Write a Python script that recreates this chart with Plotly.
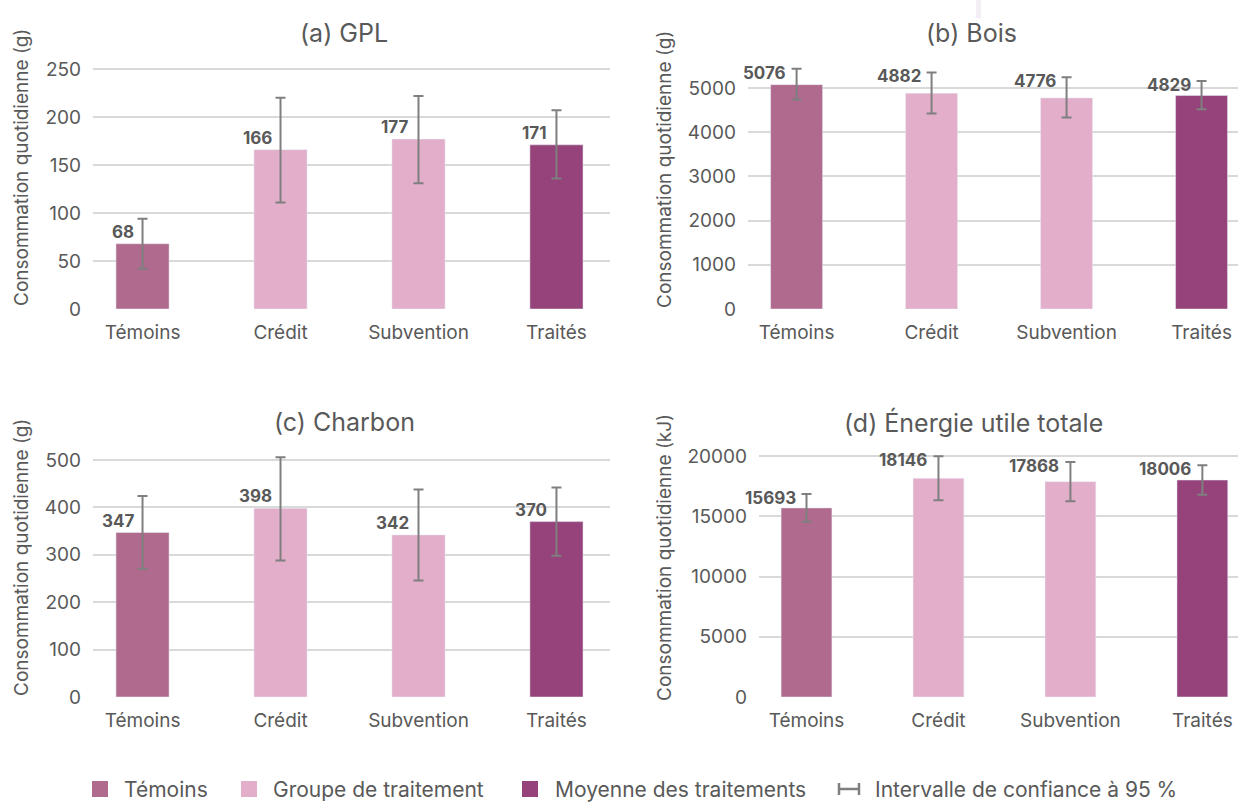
import plotly.graph_objects as go

W, H = 1238, 805

categories = ["Témoins", "Crédit", "Subvention", "Traités"]
colors = ["#B06A8D", "#E3AEC9", "#E3AEC9", "#95437A"]

gpl_mean = [68, 166, 177, 171]
gpl_hi = [94, 220, 222, 207]
gpl_lo = [42, 111, 131, 136]

bois_mean = [5076, 4882, 4776, 4829]
bois_hi = [5436, 5353, 5241, 5158]
bois_lo = [4737, 4421, 4331, 4519]

charbon_mean = [347, 398, 342, 370]
charbon_hi = [424, 506, 438, 442]
charbon_lo = [270, 288, 246, 298]

energie_mean = [15693, 18146, 17868, 18006]
energie_hi = [16838, 19972, 19501, 19223]
energie_lo = [14535, 16338, 16255, 16782]

titles = ["(a) GPL", "(b) Bois", "(c) Charbon", "(d) Énergie utile totale"]
ytitles = ["Consommation quotidienne (g)", "Consommation quotidienne (g)",
           "Consommation quotidienne (g)", "Consommation quotidienne (kJ)"]
yticks = [[0, 50, 100, 150, 200, 250],
          [0, 1000, 2000, 3000, 4000, 5000],
          [0, 100, 200, 300, 400, 500],
          [0, 5000, 10000, 15000, 20000]]

legend_labels = ["Témoins", "Groupe de traitement", "Moyenne des traitements",
                 "Intervalle de confiance à 95 %"]

FONT = "Inter, 'Open Sans', sans-serif"
TXT = "#595959"

def px_x(p):
    return p / W

def px_y(p):
    return 1 - p / H

panels = [
    dict(mean=gpl_mean, hi=gpl_hi, lo=gpl_lo, l=93, r=610, y0=309, yt=69, tv=250, rt=262, xr=(-0.359, 3.388), ci=False),
    dict(mean=bois_mean, hi=bois_hi, lo=bois_lo, l=748, r=1238, y0=309, yt=88, tv=5000, rt=5600, xr=(-0.36, 3.27), ci=True),
    dict(mean=charbon_mean, hi=charbon_hi, lo=charbon_lo, l=93, r=610, y0=697, yt=460, tv=500, rt=530, xr=(-0.359, 3.388), ci=False),
    dict(mean=energie_mean, hi=energie_hi, lo=energie_lo, l=759, r=1238, y0=697, yt=456, tv=20000, rt=21000, xr=(-0.36, 3.27), ci=True),
]
title_pos = [(344, 33), (972, 33), (344, 422), (973, 422)]
ytitle_pos = [(21, 168), (665, 170), (21, 558), (664, 558)]

fig = go.Figure()
annotations = []
layout = {}
for i, p in enumerate(panels):
    n = "" if i == 0 else str(i + 1)
    scale = (p["y0"] - p["yt"]) / p["tv"]
    ytop_px = p["y0"] - p["rt"] * scale
    fig.add_trace(go.Bar(
        x=categories, y=p["mean"], marker_color=colors, width=0.385,
        error_y=dict(type="data", symmetric=False,
                     array=[h - m for h, m in zip(p["hi"], p["mean"])],
                     arrayminus=[m - l for m, l in zip(p["mean"], p["lo"])],
                     color="#7F7F7F", thickness=2, width=5),
        xaxis="x" + n, yaxis="y" + n, showlegend=False, hoverinfo="skip"))
    layout["xaxis" + n] = dict(domain=[px_x(p["l"]), px_x(p["r"])], anchor="y" + n,
                               range=list(p["xr"]), showgrid=False, showline=False,
                               zeroline=False, ticks="", ticklabelstandoff=10,
                               automargin=False,
                               tickfont=dict(family=FONT, size=19, color=TXT))
    layout["yaxis" + n] = dict(domain=[px_y(p["y0"]), px_y(ytop_px)], anchor="x" + n,
                               range=[0, p["rt"]], tickvals=yticks[i], tickformat="d",
                               showgrid=True, gridcolor="#D9D9D9", gridwidth=1.5,
                               zeroline=False, showline=False, ticks="",
                               ticklabelstandoff=11, automargin=False,
                               tickfont=dict(family=FONT, size=19, color=TXT))
    for j, m in enumerate(p["mean"]):
        if p["ci"]:
            annotations.append(dict(x=j, y=p["hi"][j], xref="x" + n, yref="y" + n,
                                    text=str(m), showarrow=False, xanchor="right",
                                    yanchor="middle", xshift=-9, yshift=-4,
                                    font=dict(family=FONT, size=17, color=TXT, weight="bold")))
        else:
            annotations.append(dict(x=j, y=m, xref="x" + n, yref="y" + n,
                                    text=str(m), showarrow=False, xanchor="right",
                                    yanchor="bottom", xshift=-7, yshift=0,
                                    font=dict(family=FONT, size=17, color=TXT, weight="bold")))
    tx, ty = title_pos[i]
    annotations.append(dict(x=px_x(tx), y=px_y(ty), xref="paper", yref="paper",
                            text=titles[i], showarrow=False, xanchor="center", yanchor="middle",
                            font=dict(family=FONT, size=25, color=TXT)))
    ax, ay = ytitle_pos[i]
    annotations.append(dict(x=px_x(ax), y=px_y(ay), xref="paper", yref="paper",
                            text=ytitles[i], showarrow=False, textangle=-90,
                            xanchor="center", yanchor="middle",
                            font=dict(family=FONT, size=19, color=TXT)))

shapes = []
leg_y = 789
leg_items = [(92, 122, colors[0]), (241, 271, colors[1]), (522, 553, colors[3])]
for k, (mx, tx, c) in enumerate(leg_items):
    shapes.append(dict(type="rect", xref="paper", yref="paper",
                       x0=px_x(mx), x1=px_x(mx + 16), y0=px_y(leg_y + 8), y1=px_y(leg_y - 8),
                       fillcolor=c, line=dict(width=0)))
    annotations.append(dict(x=px_x(tx), y=px_y(leg_y), xref="paper", yref="paper",
                            text=legend_labels[k], showarrow=False, xanchor="left",
                            yanchor="middle", font=dict(family=FONT, size=21, color=TXT)))
ex0, ex1 = 839, 859
for seg in [(ex0, leg_y, ex1, leg_y), (ex0, leg_y - 6, ex0, leg_y + 6), (ex1, leg_y - 6, ex1, leg_y + 6)]:
    shapes.append(dict(type="line", xref="paper", yref="paper",
                       x0=px_x(seg[0]), y0=px_y(seg[1]), x1=px_x(seg[2]), y1=px_y(seg[3]),
                       line=dict(color="#7F7F7F", width=2.5)))
annotations.append(dict(x=px_x(873), y=px_y(leg_y), xref="paper", yref="paper",
                        text=legend_labels[3], showarrow=False, xanchor="left",
                        yanchor="middle", font=dict(family=FONT, size=21, color=TXT)))
shapes.append(dict(type="rect", xref="paper", yref="paper",
                   x0=px_x(976), x1=px_x(981), y0=px_y(18), y1=1,
                   fillcolor="#F3EEF3", line=dict(width=0)))

fig.update_layout(width=W, height=H, margin=dict(l=0, r=0, t=0, b=0, autoexpand=False),
                  paper_bgcolor="white", plot_bgcolor="white",
                  annotations=annotations, shapes=shapes, showlegend=False,
                  font=dict(family=FONT, color=TXT), **layout)

fig.write_html("out.html", config={"displayModeBar": False},
               post_script="document.body.style.margin='0';document.body.style.padding='0';"
                           "document.body.style.overflow='hidden';")
